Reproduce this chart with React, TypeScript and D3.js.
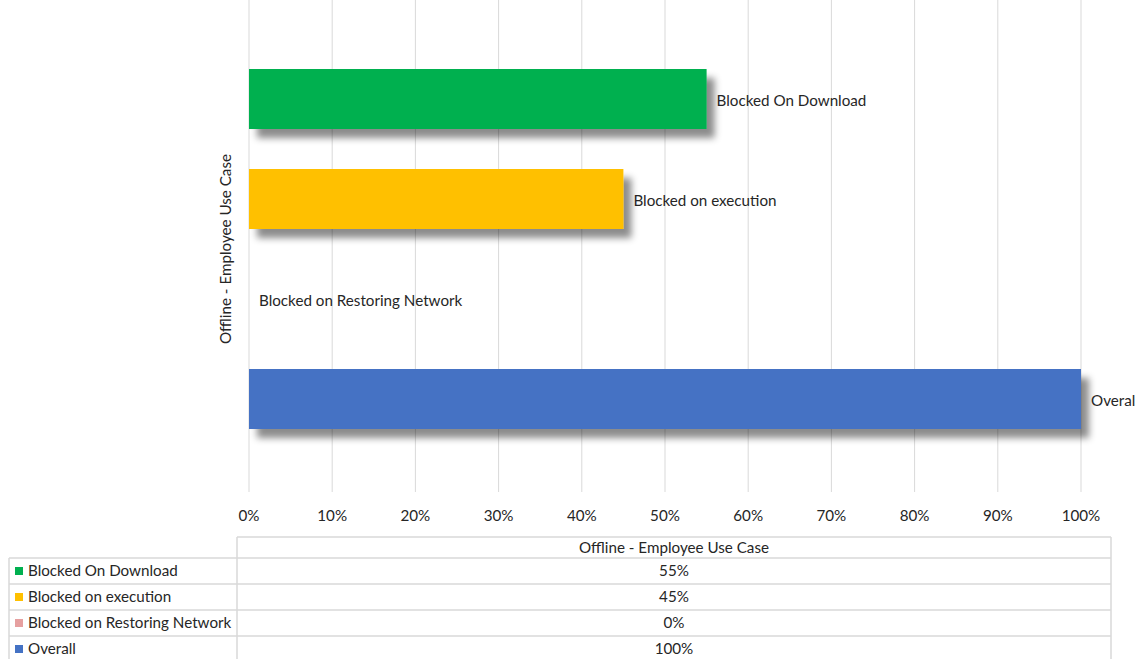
import React from "react";
import * as d3 from "d3";

const categoryTitle = "Offline - Employee Use Case";
const seriesNames = ["Blocked On Download", "Blocked on execution", "Blocked on Restoring Network", "Overall"];
const seriesValues = [0.55, 0.45, 0.0, 1.0];
const seriesColors = ["#00B050", "#FFC000", "#E6A0A0", "#4472C4"];
const tickValues = [0, 0.1, 0.2, 0.3, 0.4, 0.5, 0.6, 0.7, 0.8, 0.9, 1.0];
const tableValues = ["55%", "45%", "0%", "100%"];

const W = 1135;
const H = 659;
const FONT = "Lato, 'Open Sans', sans-serif";
const FS = 15.2;

export default function App() {
  const x = d3.scaleLinear().domain([0, 1]).range([249, 1081]);
  const y = d3.scaleBand<string>().domain(seriesNames).range([49, 449]).paddingInner(0.4).paddingOuter(0.2);
  const fmt = d3.format(".0%");

  const tableLeft = 9;
  const colSplit = 237;
  const tableRight = 1111;
  const headerTop = 537;
  const rowTops = [558, 584, 610, 636];
  const rowH = 26;
  const lineColor = "#d9d9d9";
  const valueX = (colSplit + tableRight) / 2;

  return (
    <svg width={W} height={H} style={{ position: "absolute", left: 0, top: 0, background: "#fff" }} fontFamily={FONT}>
      <defs>
        <filter id="shadow" x="-10%" y="-30%" width="130%" height="180%">
          <feDropShadow dx="8" dy="9" stdDeviation="3.5" floodColor="#000" floodOpacity="0.45" />
        </filter>
      </defs>
      {/* gridlines */}
      {tickValues.map((t) => (
        <line key={"g" + t} x1={x(t)} x2={x(t)} y1={0} y2={492} stroke={lineColor} strokeWidth={1} />
      ))}
      {/* bars */}
      {seriesNames.map((s, i) =>
        seriesValues[i] > 0 ? (
          <rect
            key={"b" + s}
            x={x(0)}
            y={y(s)}
            width={x(seriesValues[i]) - x(0)}
            height={y.bandwidth()}
            fill={seriesColors[i]}
            filter="url(#shadow)"
          />
        ) : null
      )}
      {/* bar labels */}
      {seriesNames.map((s, i) => (
        <text
          key={"l" + s}
          x={x(seriesValues[i]) + 10}
          y={(y(s) as number) + y.bandwidth() / 2 + 1.5}
          dy="0.35em"
          fontSize={FS}
          fill="#262626"
        >
          {s}
        </text>
      ))}
      {/* tick labels */}
      {tickValues.map((t) => (
        <text key={"t" + t} x={x(t)} y={516} dy="0.35em" textAnchor="middle" fontSize={FS} fill="#262626">
          {fmt(t)}
        </text>
      ))}
      {/* axis title */}
      <text
        transform={`translate(226,${249}) rotate(-90)`}
        textAnchor="middle"
        dy="0.35em"
        fontSize={FS}
        fill="#262626"
      >
        {categoryTitle}
      </text>
      {/* data table */}
      <g stroke={lineColor} strokeWidth={1.5} fill="none">
        <line x1={colSplit} x2={tableRight} y1={headerTop} y2={headerTop} />
        <line x1={colSplit} x2={colSplit} y1={headerTop} y2={H} />
        <line x1={tableRight} x2={tableRight} y1={headerTop} y2={H} />
        <line x1={tableLeft} x2={tableLeft} y1={rowTops[0]} y2={H} />
        {rowTops.map((r) => (
          <line key={"r" + r} x1={tableLeft} x2={tableRight} y1={r} y2={r} />
        ))}
      </g>
      <text x={valueX} y={(headerTop + rowTops[0]) / 2} dy="0.35em" textAnchor="middle" fontSize={FS} fill="#262626">
        {categoryTitle}
      </text>
      {seriesNames.map((s, i) => (
        <g key={"row" + s}>
          <rect x={15} y={rowTops[i] + rowH / 2 - 4} width={8} height={8} fill={seriesColors[i]} />
          <text x={28} y={rowTops[i] + rowH / 2} dy="0.35em" fontSize={FS} fill="#262626">
            {s}
          </text>
          <text x={valueX} y={rowTops[i] + rowH / 2} dy="0.35em" textAnchor="middle" fontSize={FS} fill="#262626">
            {tableValues[i]}
          </text>
        </g>
      ))}
    </svg>
  );
}
